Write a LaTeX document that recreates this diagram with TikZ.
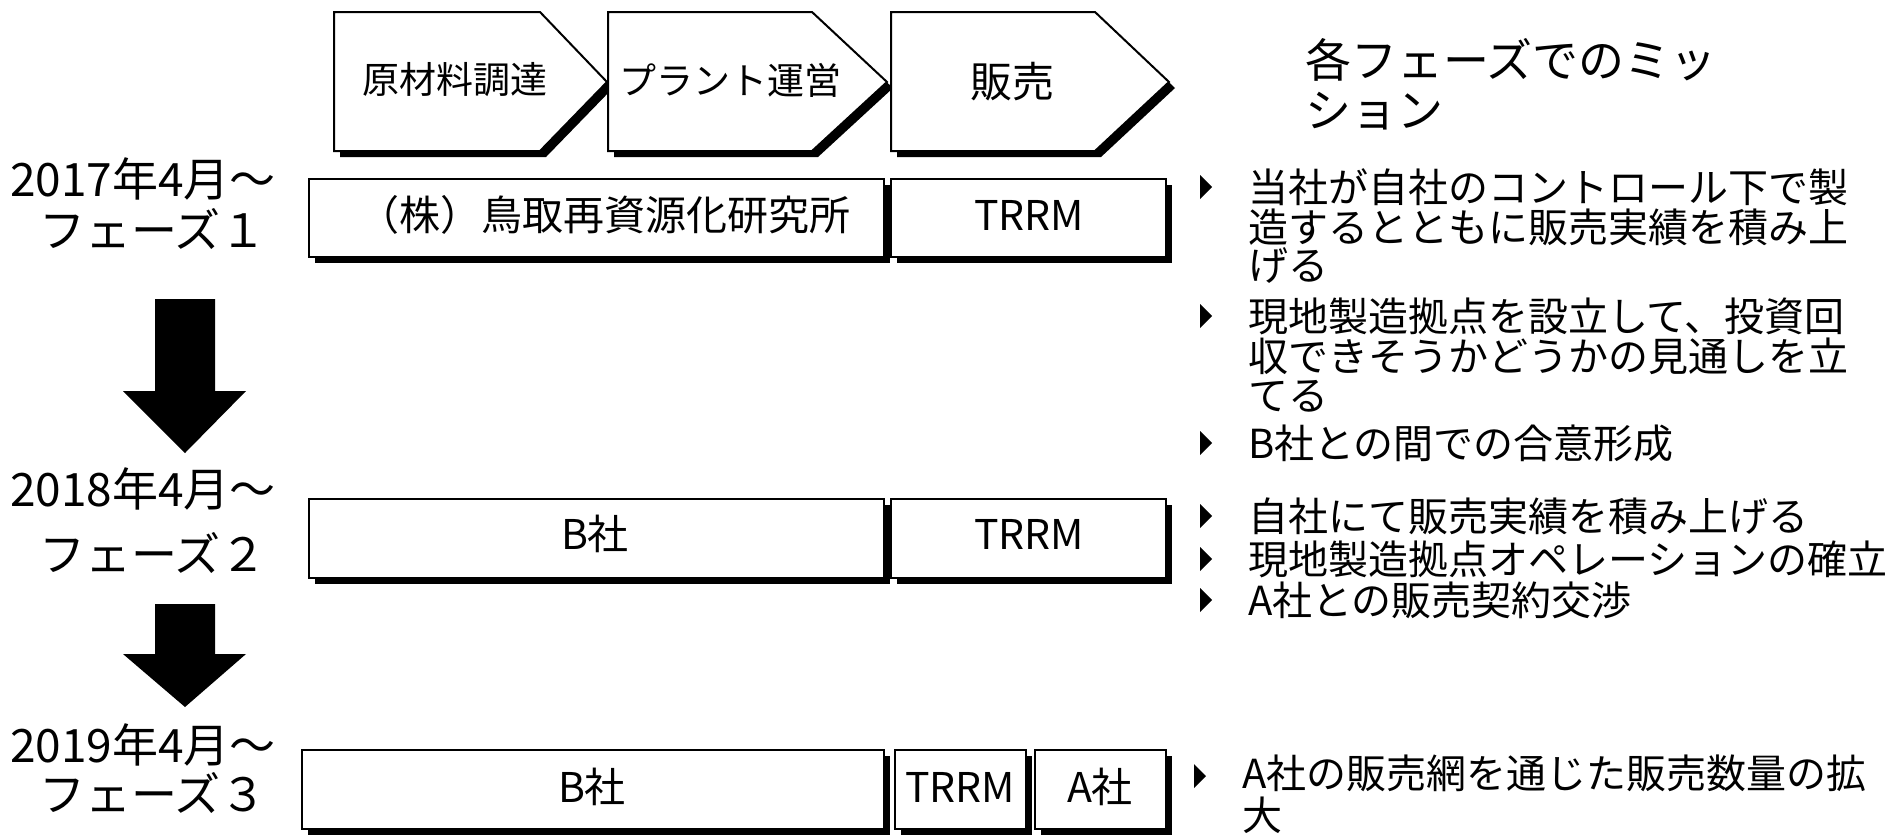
\documentclass[tikz,border=0pt]{standalone}
\usepackage{fontspec}
\setmainfont{Noto Sans CJK JP}
\newcommand\shadbox[4]{%
  \fill[shadowfill] (#1,#2) rectangle (#3,#4);
  \draw[shapebox] (#1,#2) rectangle (#3,#4);}
\begin{document}
\begin{tikzpicture}[x=0.5pt,y=-0.5pt,line width=1pt,
  shapebox/.style={draw=black,fill=white,line width=1pt},
  shadowfill/.style={fill=black,shift={(6,6)}},
  lbl/.style={font=\fontsize{23}{26}\selectfont,inner sep=0pt},
  hdr/.style={font=\fontsize{23}{26}\selectfont,inner sep=0pt,anchor=west},
  chevtxt/.style={font=\fontsize{18.5}{20}\selectfont,inner sep=0pt},
  boxtxt/.style={font=\fontsize{20.5}{22}\selectfont,inner sep=0pt},
  bl/.style={font=\fontsize{20}{22}\selectfont,inner sep=0pt,anchor=west},
  bigarrow/.style={fill=black}]
\useasboundingbox (0,0) rectangle (1893,837);

% chevrons
\foreach \L/\B/\T in {334/540/607, 608/812/887, 891/1095/1169}{
  \fill[shadowfill] (\L,12) -- (\B,12) -- (\T,82) -- (\B,151) -- (\L,151) -- cycle;
  \draw[shapebox] (\L,12) -- (\B,12) -- (\T,82) -- (\B,151) -- (\L,151) -- cycle;
}
\node[chevtxt] (c1) at (455,80) {原材料調達};
\node[chevtxt] (c2) at (730,80) {プラント運営};
\node[chevtxt,font=\fontsize{21}{22}\selectfont] (c3) at (1012,82) {販売};

% header
\node[hdr] (h1) at (1304,60) {各フェーズでのミッ};
\node[hdr] (h2) at (1304,111) {ション};

% row boxes
\shadbox{309}{179}{884}{257}
\shadbox{891}{179}{1166}{257}
\shadbox{309}{499}{884}{578}
\shadbox{891}{499}{1166}{578}
\shadbox{302}{750}{884}{829}
\shadbox{895}{750}{1026}{829}
\shadbox{1035}{750}{1166}{829}

\node[boxtxt] (r1a) at (604,215) {（株）鳥取再資源化研究所};
\node[boxtxt] (r1b) at (1029,215) {TRRM};
\node[boxtxt] (r2a) at (595,534) {B社};
\node[boxtxt] (r2b) at (1029,534) {TRRM};
\node[boxtxt] (r3a) at (592,787) {B社};
\node[boxtxt] (r3b) at (960,787) {TRRM};
\node[boxtxt] (r3c) at (1100,787) {A社};

% left labels
\node[lbl] (p1a) at (143,179) {2017年4月～};
\node[lbl] (p1b) at (153,229) {フェーズ１};
\node[lbl] (p2a) at (143,489) {2018年4月～};
\node[lbl] (p2b) at (153,553) {フェーズ２};
\node[lbl] (p3a) at (143,745) {2019年4月～};
\node[lbl] (p3b) at (153,793) {フェーズ３};

% big arrows
\fill[bigarrow] (155,299) -- (215,299) -- (215,391) -- (246,391) -- (185,453) -- (123,391) -- (155,391) -- cycle;
\fill[bigarrow] (155,604) -- (215,604) -- (215,654) -- (246,654) -- (185,707) -- (123,654) -- (155,654) -- cycle;

% bullets
\foreach \bx/\by in {1200/187, 1200/316, 1200/443, 1200/516, 1200/559, 1200/600, 1194/776}{
  \fill (\bx,\by-12) -- (\bx+12,\by) -- (\bx,\by+12) -- cycle;
}
\node[bl] (t1) at (1247,187) {当社が自社のコントロール下で製};
\node[bl] (t2) at (1247,227) {造するとともに販売実績を積み上};
\node[bl] (t3) at (1247,266) {げる};
\node[bl] (t4) at (1247,316) {現地製造拠点を設立して、投資回};
\node[bl] (t5) at (1247,356) {収できそうかどうかの見通しを立};
\node[bl] (t6) at (1247,396) {てる};
\node[bl] (t7) at (1247,443) {B社との間での合意形成};
\node[bl] (t8) at (1247,516) {自社にて販売実績を積み上げる};
\node[bl] (t9) at (1247,559) {現地製造拠点オペレーションの確立};
\node[bl] (t10) at (1247,600) {A社との販売契約交渉};
\node[bl] (t11) at (1241,773) {A社の販売網を通じた販売数量の拡};
\node[bl] (t12) at (1241,815) {大};
\end{tikzpicture}
\end{document}
